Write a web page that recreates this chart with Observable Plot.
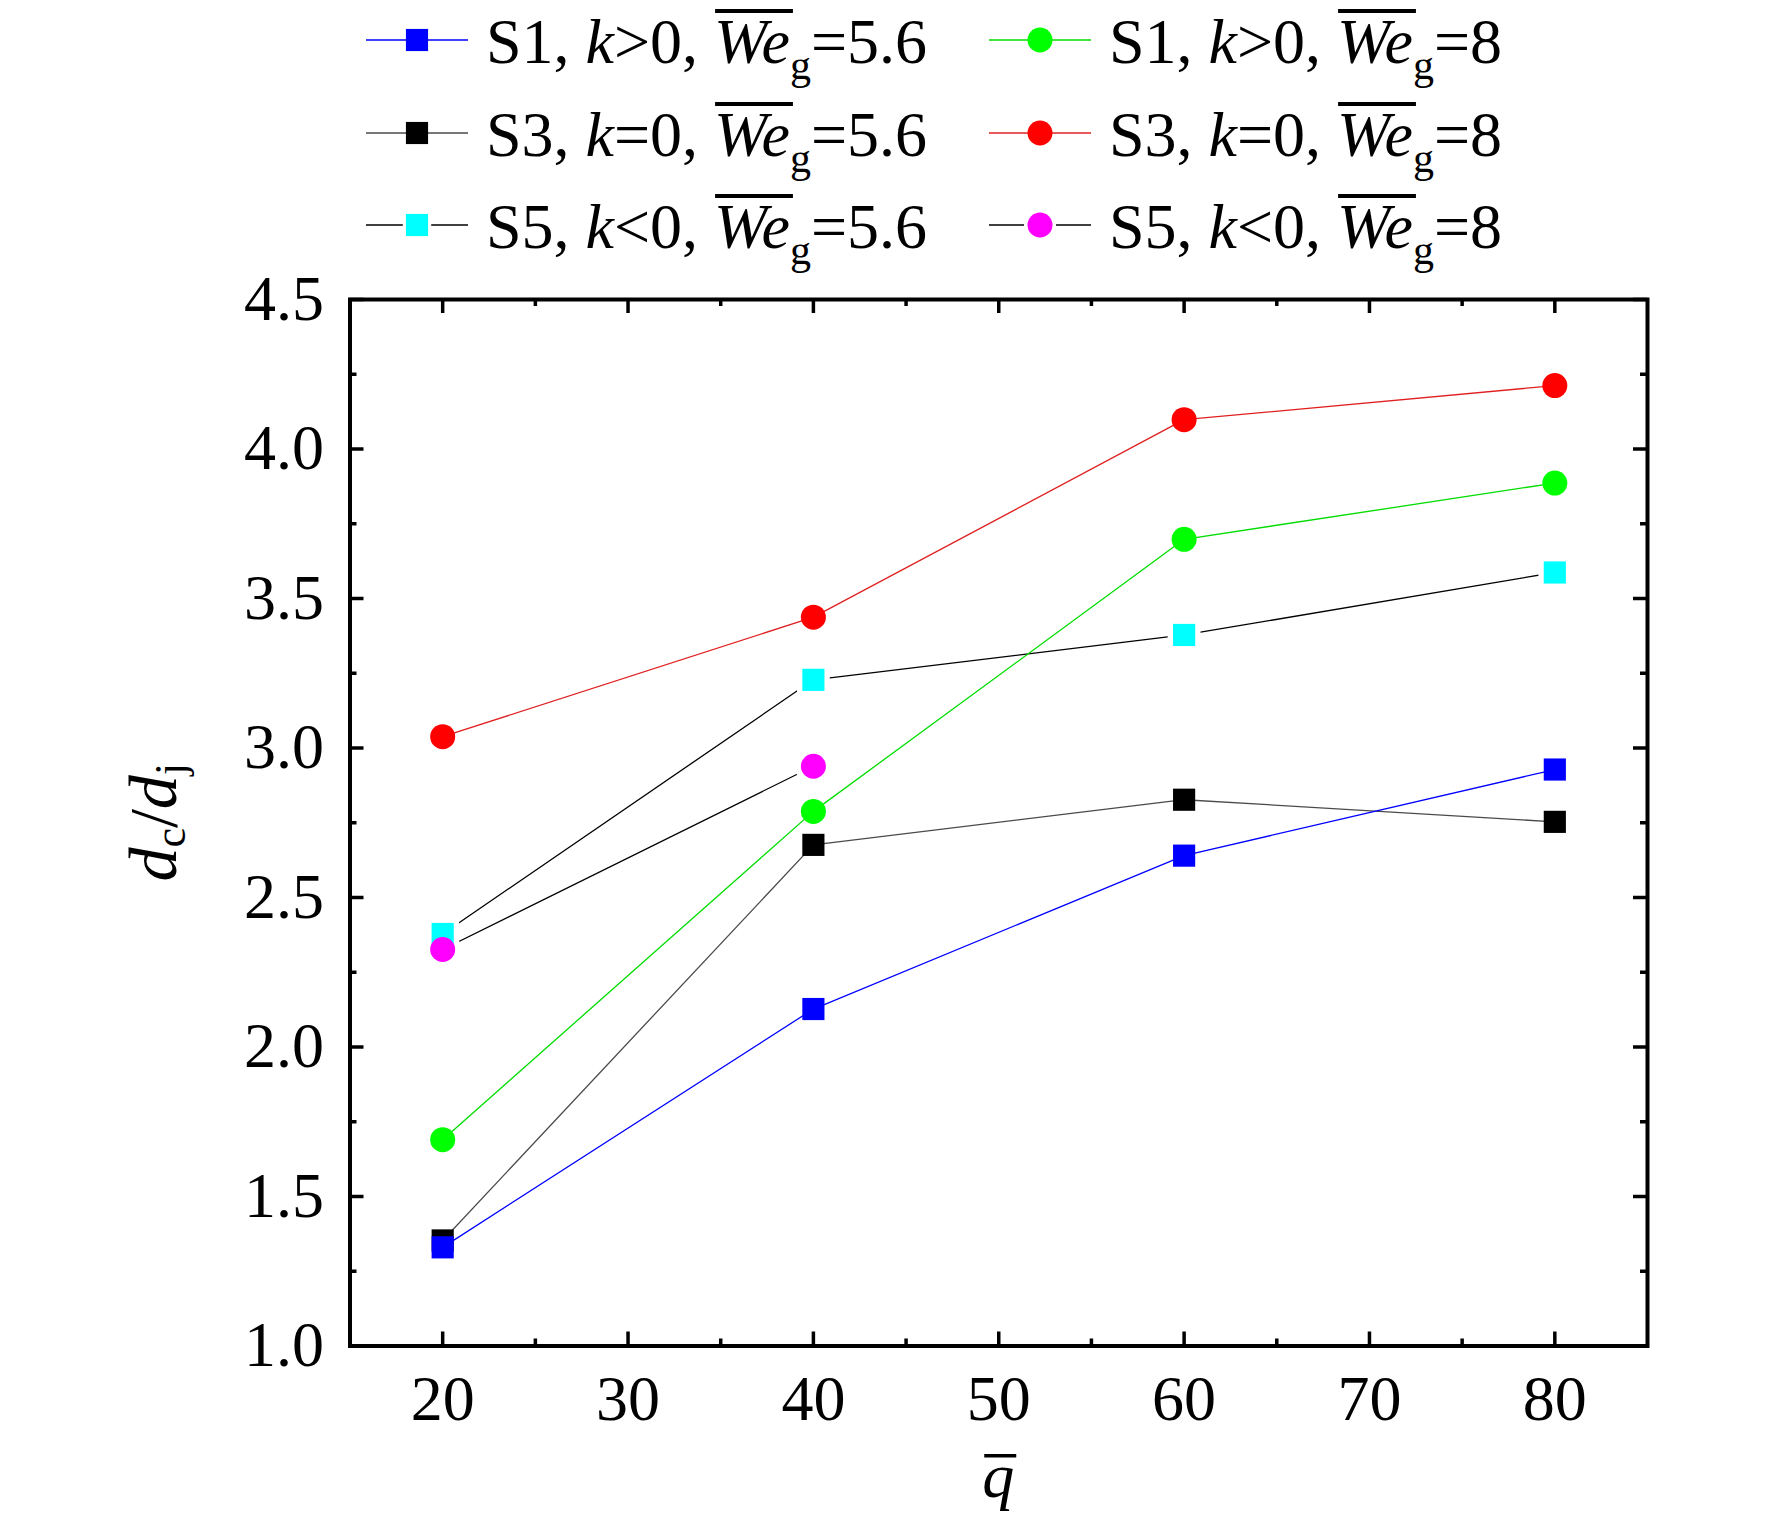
<!DOCTYPE html>
<html>
<head>
<meta charset="utf-8">
<script src="https://cdn.jsdelivr.net/npm/d3@7"></script>
<script src="https://cdn.jsdelivr.net/npm/@observablehq/plot@0.6"></script>
<style>
  html, body { margin: 0; padding: 0; background: #fff; }
  #legend, #chart svg { display: block; }
</style>
</head>
<body>
<svg id="legend" width="1772" height="285"></svg>
<div id="chart"></div>
<script>
// ---------------- data ----------------
const qBar = [20, 40, 60, 80];
const s1We56 = [1.33, 2.127, 2.64, 2.928];
const s3We56 = [1.353, 2.676, 2.827, 2.753];
const s5We56 = [2.378, 3.228, 3.378, 3.587];
const s1We8 = [1.69, 2.788, 3.698, 3.886];
const s3We8 = [3.038, 3.4375, 4.098, 4.212];
const s5We8 = [2.326, 2.939];

const xMajorTicks = [20, 30, 40, 50, 60, 70, 80];
const xMinorTicks = [25, 35, 45, 55, 65, 75];
const yMajorTicks = [1.0, 1.5, 2.0, 2.5, 3.0, 3.5, 4.0, 4.5];
const yMinorTicks = [1.25, 1.75, 2.25, 2.75, 3.25, 3.75, 4.25];

// series meta (legend text pieces + styling)
const seriesDefs = [
  {id: "S5a", s: "S5", k: "<0", we: "5.6", values: s5We56, fill: "#00ffff", line: "#000000", symbol: "square", gap: true,  col: 0, row: 2},
  {id: "S3a", s: "S3", k: "=0", we: "5.6", values: s3We56, fill: "#000000", line: "#4a4a4a", symbol: "square", gap: false, col: 0, row: 1},
  {id: "S1a", s: "S1", k: ">0", we: "5.6", values: s1We56, fill: "#0000ff", line: "#0000ff", symbol: "square", gap: false, col: 0, row: 0},
  {id: "S1b", s: "S1", k: ">0", we: "8",   values: s1We8,  fill: "#00ff00", line: "#00dd00", symbol: "circle", gap: false, col: 1, row: 0},
  {id: "S3b", s: "S3", k: "=0", we: "8",   values: s3We8,  fill: "#ff0000", line: "#e02020", symbol: "circle", gap: false, col: 1, row: 1},
  {id: "S5b", s: "S5", k: "<0", we: "8",   values: s5We8,  fill: "#ff00ff", line: "#000000", symbol: "circle", gap: true,  col: 1, row: 2}
];
const rowsOf = d => d.values.map((v, i) => ({q: qBar[i], v}));

// ---------------- layout ----------------
const FONT = "'Liberation Serif', 'Times New Roman', Times, serif";
const LEG_H = 285;
const W = 1772, H = 1527 - LEG_H;
const mL = 349.5, mR = 125, mT = 299 - LEG_H, mB = 181.5;
const innerW = W - mL - mR, innerH = H - mT - mB;
const R = 12.5;          // marker radius
const HALO = 18.5;       // white gap around S5 markers
const majorLen = 14, minorLen = 7;

const lineMarks = seriesDefs.map(d => Plot.line(rowsOf(d), {x: "q", y: "v", stroke: d.line, strokeWidth: 1.3}));
const haloMarks = seriesDefs.filter(d => d.gap).map(d => Plot.dot(rowsOf(d), {x: "q", y: "v", r: HALO, symbol: d.symbol, fill: "#fff", stroke: "none"}));
const dotMarks = seriesDefs.map(d => Plot.dot(rowsOf(d), {x: "q", y: "v", r: R, symbol: d.symbol, fill: d.fill, stroke: "none"}));

const tickW = 3.5;
const tickMarks = [
  Plot.tickX(xMajorTicks, {x: d => d, insetTop: innerH - majorLen, stroke: "#000", strokeWidth: tickW}),
  Plot.tickX(xMajorTicks, {x: d => d, insetBottom: innerH - majorLen, stroke: "#000", strokeWidth: tickW}),
  Plot.tickX(xMinorTicks, {x: d => d, insetTop: innerH - minorLen, stroke: "#000", strokeWidth: tickW}),
  Plot.tickX(xMinorTicks, {x: d => d, insetBottom: innerH - minorLen, stroke: "#000", strokeWidth: tickW}),
  Plot.tickY(yMajorTicks, {y: d => d, insetRight: innerW - majorLen, stroke: "#000", strokeWidth: tickW}),
  Plot.tickY(yMajorTicks, {y: d => d, insetLeft: innerW - majorLen, stroke: "#000", strokeWidth: tickW}),
  Plot.tickY(yMinorTicks, {y: d => d, insetRight: innerW - minorLen, stroke: "#000", strokeWidth: tickW}),
  Plot.tickY(yMinorTicks, {y: d => d, insetLeft: innerW - minorLen, stroke: "#000", strokeWidth: tickW})
];

const chart = Plot.plot({
  width: W, height: H,
  marginLeft: mL, marginRight: mR, marginTop: mT, marginBottom: mB,
  style: {fontFamily: FONT, fontSize: "64px", color: "#000", background: "#fff", overflow: "visible"},
  x: {domain: [15, 85], label: null},
  y: {domain: [1, 4.5], label: null},
  marks: [
    Plot.axisX(xMajorTicks, {tickSize: 0, tickPadding: 29, fontSize: 64, fontFamily: FONT, fill: "#000", tickFormat: d => String(d)}),
    Plot.axisY(yMajorTicks, {tickSize: 0, tickPadding: 26, fontSize: 64, fontFamily: FONT, fill: "#000", tickFormat: d3.format(".1f")}),
    ...lineMarks,
    ...haloMarks,
    ...dotMarks,
    ...tickMarks,
    Plot.frame({stroke: "#000", strokeWidth: 4})
  ]
});
document.getElementById("chart").appendChild(chart);

// ---------------- axis titles ----------------
const svg = d3.select(chart);
// y title: d_c / d_j (rotated)
const yTitle = svg.append("text")
  .attr("transform", `translate(176, ${mT + innerH / 2}) rotate(-90)`)
  .attr("text-anchor", "middle")
  .attr("font-family", FONT).attr("font-size", 68).attr("fill", "#000");
yTitle.append("tspan").attr("font-style", "italic").text("d");
yTitle.append("tspan").attr("font-size", 44).attr("dy", 9).text("c");
yTitle.append("tspan").attr("dy", -9).text("/");
yTitle.append("tspan").attr("font-style", "italic").text("d");
yTitle.append("tspan").attr("font-size", 44).attr("dy", 9).text("j");

// x title: q with overline
const xBase = H - 30;
const xTitle = svg.append("text")
  .attr("x", mL + innerW / 2).attr("y", xBase)
  .attr("text-anchor", "middle")
  .attr("font-family", FONT).attr("font-size", 64).attr("font-style", "italic").attr("fill", "#000")
  .text("q");
const xb = xTitle.node().getBBox();
svg.append("rect").attr("x", xb.x + 2).attr("y", xBase - 43).attr("width", xb.width).attr("height", 3.5).attr("fill", "#000");

// ---------------- legend ----------------
const lg = d3.select("#legend");
const colX = [366, 989];     // start of legend line per column
const rowY = [40, 133, 225]; // marker centre per row
const lineLen = 102, textGap = 120;
const legendOrder = [...seriesDefs].sort((a, b) => a.col - b.col || a.row - b.row);
for (const d of legendOrder) {
  const x0 = colX[d.col], cy = rowY[d.row], cx = x0 + lineLen / 2;
  const g = lg.append("g");
  g.append("line").attr("x1", x0).attr("x2", x0 + lineLen).attr("y1", cy).attr("y2", cy)
    .attr("stroke", d.line).attr("stroke-width", 1.6);
  const sym = d.symbol === "square" ? d3.symbolSquare : d3.symbolCircle;
  if (d.gap) {
    g.append("path").attr("transform", `translate(${cx},${cy})`)
      .attr("d", d3.symbol(sym, Math.PI * HALO * HALO * 0.75)()).attr("fill", "#fff");
  }
  g.append("path").attr("transform", `translate(${cx},${cy})`)
    .attr("d", d3.symbol(sym, Math.PI * R * R)()).attr("fill", d.fill);

  const base = cy + 23;
  const t = g.append("text").attr("x", x0 + textGap).attr("y", base)
    .attr("font-family", FONT).attr("font-size", 64).attr("fill", "#000");
  t.append("tspan").text(d.s + ",\u00a0");
  t.append("tspan").attr("font-style", "italic").text("k");
  t.append("tspan").text(d.k + ",\u00a0");
  const weSpan = t.append("tspan").attr("font-style", "italic").text("We");
  t.append("tspan").attr("font-size", 42).attr("dy", 16).text("g");
  t.append("tspan").attr("dy", -16).text("=" + d.we);
  const bb = weSpan.node().getBBox();
  g.append("rect").attr("x", bb.x + 1).attr("y", base - 54).attr("width", bb.width + 2).attr("height", 4).attr("fill", "#000");
}
</script>
</body>
</html>
